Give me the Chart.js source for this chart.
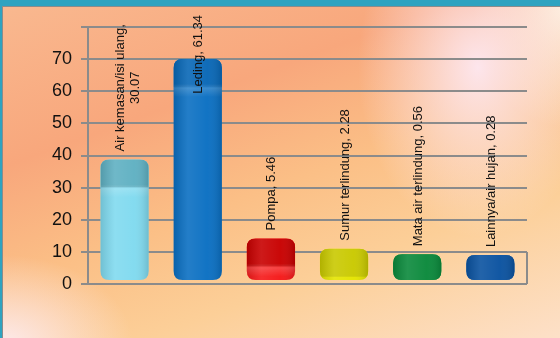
<!DOCTYPE html>
<html>
<head>
<meta charset="utf-8">
<script src="https://cdn.jsdelivr.net/npm/chart.js@4"></script>
<style>
  html, body { margin: 0; padding: 0; width: 560px; height: 338px; overflow: hidden; background: #2ea3c0; }
  #bg {
    position: absolute; left: 2px; top: 6px; right: 0; bottom: 0;
    border-top: 1px solid #8b8b8b; border-left: 1px solid #8b8b8b;
    background:
      radial-gradient(ellipse 120px 170px at 475px 60px, rgba(253,232,242,0.95), rgba(253,232,242,0)),
      radial-gradient(ellipse 130px 90px at 0px 338px, rgba(253,234,236,1), rgba(253,234,236,0)),
      radial-gradient(ellipse 90px 120px at 560px 0px, rgba(253,240,220,1), rgba(253,240,220,0)),
      linear-gradient(160deg, #f9b88f 0%, #f8a77c 30%, #fbbf86 52%, #fccf98 72%, #fde0c8 100%);
  }
  #wrap { position: absolute; left: 0; top: 0; width: 560px; height: 338px; }
</style>
</head>
<body>
<div id="bg"></div>
<div id="wrap"><canvas id="chart" width="560" height="338"></canvas></div>
<script>
const categories = ['Air kemasan/isi ulang', 'Leding', 'Pompa', 'Sumur terlindung', 'Mata air terlindung', 'Lainnya/air hujan'];
const values = [30.07, 61.34, 5.46, 2.28, 0.56, 0.28];
const yTicks = [0, 10, 20, 30, 40, 50, 60, 70];

// body colour and top-face colour for each bar
const bodyColors = ['#80daef', '#0a6fc2', '#f51818', '#e4e400', '#0c8e3f', '#0b55a3'];
const capColors = ['#5fb0c2', '#0867b6', '#c80000', '#c9c900', '#0a893b', '#0a52a0'];

const DEPTH = 28;

function roundRect(ctx, x, y, w, h, r) {
  r = Math.min(r, h / 2, w / 2);
  ctx.beginPath();
  ctx.moveTo(x + r, y);
  ctx.lineTo(x + w - r, y);
  ctx.quadraticCurveTo(x + w, y, x + w, y + r);
  ctx.lineTo(x + w, y + h - r);
  ctx.quadraticCurveTo(x + w, y + h, x + w - r, y + h);
  ctx.lineTo(x + r, y + h);
  ctx.quadraticCurveTo(x, y + h, x, y + h - r);
  ctx.lineTo(x, y + r);
  ctx.quadraticCurveTo(x, y, x + r, y);
  ctx.closePath();
}

const barLook = {
  id: 'barLook',
  beforeDatasetsDraw(chart) {
    // right edge of the floor
    const ctx = chart.ctx, y = chart.scales.y, a = chart.chartArea;
    ctx.save();
    ctx.strokeStyle = '#8b8b8b';
    ctx.lineWidth = 2;
    ctx.beginPath();
    ctx.moveTo(a.right, y.getPixelForValue(10));
    ctx.lineTo(a.right, y.getPixelForValue(0));
    ctx.stroke();
    ctx.restore();
  },
  afterDatasetsDraw(chart) {
    const ctx = chart.ctx;
    const meta = chart.getDatasetMeta(0);
    const a = chart.chartArea;
    meta.data.forEach((el, i) => {
      const w = el.width, x0 = el.x - w / 2;
      const bottom = el.base - 3;
      const capTop = el.y - DEPTH;
      ctx.save();
      // whole cylinder
      roundRect(ctx, x0, capTop, w, bottom - capTop, 9);
      ctx.fillStyle = bodyColors[i];
      ctx.fill();
      ctx.clip();
      // top face
      ctx.fillStyle = capColors[i];
      ctx.fillRect(x0, capTop, w, Math.min(el.y, bottom) - capTop);
      // soft highlight where the face meets the body
      if (bottom - el.y > 6) {
        const gh = ctx.createLinearGradient(0, el.y - 3, 0, el.y + 10);
        gh.addColorStop(0, 'rgba(255,255,255,0)');
        gh.addColorStop(0.35, 'rgba(255,255,255,0.16)');
        gh.addColorStop(1, 'rgba(255,255,255,0)');
        ctx.fillStyle = gh;
        ctx.fillRect(x0, el.y - 3, w, 13);
      }
      // cylinder shading
      const g = ctx.createLinearGradient(x0, 0, x0 + w, 0);
      g.addColorStop(0, 'rgba(0,0,0,0.12)');
      g.addColorStop(0.3, 'rgba(255,255,255,0.10)');
      g.addColorStop(0.7, 'rgba(255,255,255,0.03)');
      g.addColorStop(1, 'rgba(0,0,0,0.14)');
      ctx.fillStyle = g;
      ctx.fillRect(x0, capTop, w, bottom - capTop);
      ctx.restore();

      // rotated value label
      ctx.save();
      ctx.font = '13px "Liberation Sans", Arial, sans-serif';
      ctx.fillStyle = '#111';
      const text = categories[i] + ', ' + values[i].toFixed(2);
      let lines = [text];
      if (ctx.measureText(text).width > 150) {
        const k = text.lastIndexOf(', ');
        lines = [text.slice(0, k + 1), text.slice(k + 2)];
      }
      const len = Math.max(...lines.map(l => ctx.measureText(l).width));
      let textBottom = capTop - 8;
      if (textBottom - len < a.top - 12) textBottom = a.top - 12 + len;
      const cy = textBottom - len / 2;
      const lh = 15;
      const cx = el.x + (lines.length > 1 ? 3 : 1);
      ctx.translate(cx, cy);
      ctx.rotate(-Math.PI / 2);
      ctx.textAlign = 'center';
      ctx.textBaseline = 'middle';
      lines.forEach((l, j) => {
        ctx.fillText(l, 0, (j - (lines.length - 1) / 2) * lh);
      });
      ctx.restore();
    });
  }
};

new Chart(document.getElementById('chart'), {
  type: 'bar',
  data: {
    labels: categories,
    datasets: [{
      data: values,
      backgroundColor: 'rgba(0,0,0,0)',
      barPercentage: 0.66,
      categoryPercentage: 1
    }]
  },
  options: {
    responsive: false,
    animation: false,
    layout: { padding: { top: 27, right: 33, bottom: 54, left: 0 } },
    plugins: { legend: { display: false }, tooltip: { enabled: false } },
    scales: {
      x: { display: false },
      y: {
        min: 0,
        max: 80,
        afterBuildTicks: s => { s.ticks = yTicks.concat([80]).map(v => ({ value: v })); },
        afterFit: s => { s.width = 88; },
        ticks: {
          callback: v => (yTicks.includes(v) ? String(v) : ''),
          color: '#111',
          padding: 9,
          font: { family: '"Liberation Sans", Arial, sans-serif', size: 18 }
        },
        grid: { color: '#8b8b8b', lineWidth: 2, tickLength: 7 },
        border: { color: '#8b8b8b', width: 2 }
      }
    }
  },
  plugins: [barLook]
});
</script>
</body>
</html>
